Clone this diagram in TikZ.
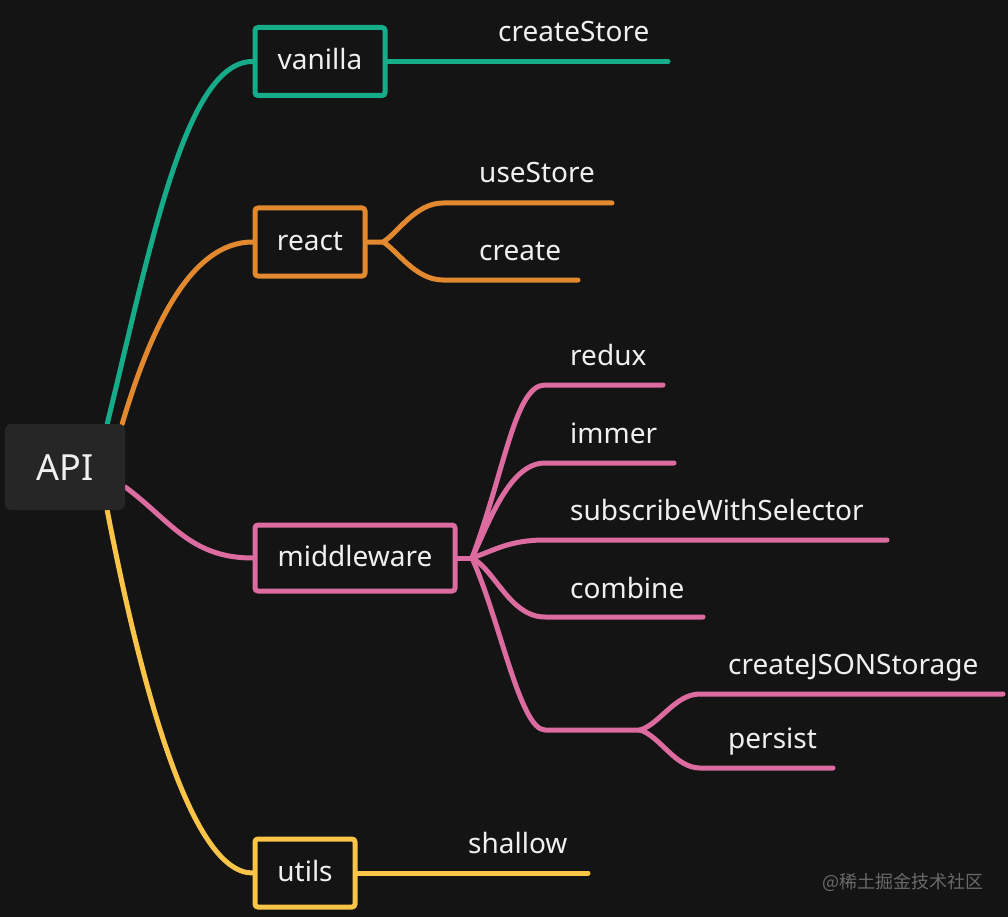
\documentclass[tikz,border=0pt]{standalone}
\usepackage{fontspec}
\setmainfont{Noto Sans}
\newfontfamily\cjkfont{Noto Sans CJK SC}
\definecolor{bgc}{RGB}{20,20,20}
\definecolor{apifill}{RGB}{38,38,38}
\definecolor{cteal}{RGB}{22,172,138}
\definecolor{corange}{RGB}{226,137,48}
\definecolor{cpink}{RGB}{220,108,160}
\definecolor{cyellow}{RGB}{250,196,72}
\definecolor{ctext}{RGB}{240,240,240}
\definecolor{cwm}{RGB}{105,105,105}
\pgfdeclarelayer{back}
\pgfdeclarelayer{edges}
\pgfsetlayers{back,edges,main}
\tikzset{
  topicbox/.style={draw, line width=5pt, rounded corners=3pt, fill=bgc,
    minimum height=68pt, inner sep=0pt, text=ctext,
    font=\fontsize{28}{32}\selectfont, text height=22pt, text depth=6pt},
  leaflabel/.style={anchor=base west, inner sep=0pt, text=ctext,
    font=\fontsize{28}{32}\selectfont},
  conn/.style={line width=5pt, line cap=round, line join=round},
}
\begin{document}
\begin{tikzpicture}[x=1pt,y=-1pt]
\begin{pgfonlayer}{back}
\fill[bgc] (0,0) rectangle (1008,917);
\end{pgfonlayer}
\useasboundingbox (0,0) rectangle (1008,917);

% root
\node[fill=apifill, rounded corners=6pt, minimum width=120pt, minimum height=86pt,
      inner sep=0pt, text=ctext, font=\fontsize{36}{40}\selectfont,
      text height=27pt, text depth=0pt] (api) at (65,467) {API};

% main topics
\node[topicbox, draw=cteal, minimum width=130pt] (vanilla) at (320,61.5) {vanilla};
\node[topicbox, draw=corange, minimum width=110pt] (react) at (310,242) {react};
\node[topicbox, draw=cpink, minimum width=200pt, minimum height=66pt] (mid) at (355,558) {middleware};
\node[topicbox, draw=cyellow, minimum width=100pt] (utils) at (305,873) {utils};

% leaf labels
\node[leaflabel] (createStore) at (498,42) {createStore};
\node[leaflabel] (useStore) at (479,183) {useStore};
\node[leaflabel] (create) at (479,260) {create};
\node[leaflabel] (redux) at (570,365) {redux};
\node[leaflabel] (immer) at (570,443) {immer};
\node[leaflabel] (subsel) at (570,520) {subscribeWithSelector};
\node[leaflabel] (combine) at (570,598) {combine};
\node[leaflabel] (jsonst) at (728,674) {createJSONStorage};
\node[leaflabel] (persist) at (728,748) {persist};
\node[leaflabel] (shallow) at (468,853) {shallow};

% watermark
\node[anchor=base west, inner sep=0pt, text=cwm, font=\cjkfont\fontsize{18}{20}\selectfont] (wm) at (822,888) {@稀土掘金技术社区};

% free ends / branch points
\coordinate (csEnd) at (668,61.5);
\coordinate (rb) at (383,242);
\coordinate (usEnd) at (612,203);
\coordinate (crEnd) at (578,280);
\coordinate (mb) at (472,558);
\coordinate (rdEnd) at (663,385);
\coordinate (imEnd) at (674,463);
\coordinate (ssEnd) at (887,540);
\coordinate (cbEnd) at (703,617);
\coordinate (pb) at (640,730);
\coordinate (jsEnd) at (1003,694);
\coordinate (psEnd) at (833,768);
\coordinate (shEnd) at (588,873);

\begin{pgfonlayer}{edges}
% root edges
\draw[conn, cteal] ([xshift=-18pt]api.north east) .. controls (150,250) and (185,61.5) .. (vanilla.west);
\draw[conn, corange] ([xshift=-3pt]api.north east) .. controls (150,330) and (190,242) .. (react.west);
\draw[conn, cpink] ([yshift=-20pt]api.east) .. controls (170,520) and (190,558) .. (mid.west);
\draw[conn, cyellow] ([xshift=-18pt]api.south east) .. controls (140,680) and (190,873) .. (utils.west);

% vanilla
\draw[conn, cteal] (vanilla.east) -- (csEnd);
% react
\draw[conn, corange] (react.east) -- (rb) .. controls (397,234) and (415,203) .. (443,203) -- (usEnd);
\draw[conn, corange] (rb) .. controls (397,250) and (415,280) .. (443,280) -- (crEnd);
% middleware
\draw[conn, cpink] (mid.east) -- (mb);
\draw[conn, cpink] (mb) .. controls (505,470) and (515,385) .. (545,385) -- (rdEnd);
\draw[conn, cpink] (mb) .. controls (490,520) and (510,463) .. (545,463) -- (imEnd);
\draw[conn, cpink] (mb) .. controls (495,550) and (510,540) .. (545,540) -- (ssEnd);
\draw[conn, cpink] (mb) .. controls (495,570) and (510,617) .. (545,617) -- (cbEnd);
\draw[conn, cpink] (mb) .. controls (500,620) and (520,730) .. (545,730) -- (pb);
\draw[conn, cpink] (pb) .. controls (660,724) and (675,694) .. (700,694) -- (jsEnd);
\draw[conn, cpink] (pb) .. controls (660,736) and (675,768) .. (700,768) -- (psEnd);
% utils
\draw[conn, cyellow] (utils.east) -- (shEnd);
\end{pgfonlayer}
\end{tikzpicture}
\end{document}
